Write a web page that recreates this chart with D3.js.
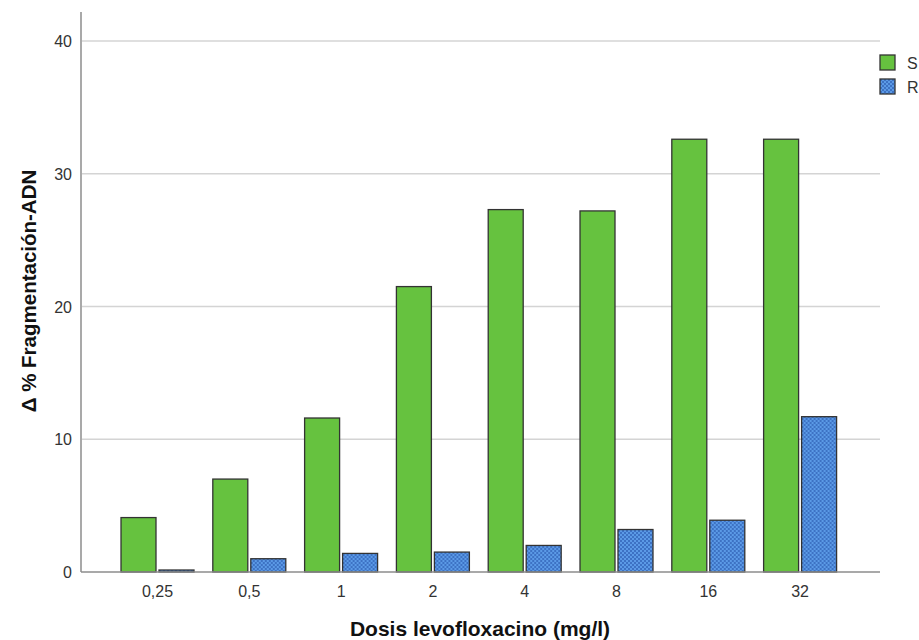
<!DOCTYPE html>
<html><head><meta charset="utf-8">
<script src="https://cdn.jsdelivr.net/npm/d3@7"></script>
<style>body{margin:0;background:#fff;} text{font-family:"Liberation Sans",Arial,sans-serif;}</style>
</head><body>
<svg id="c" width="919" height="640"></svg>
<script>
const categories = ["0,25","0,5","1","2","4","8","16","32"];
const seriesNames = ["S","R"];
const valuesS = [4.1, 7.0, 11.6, 21.5, 27.3, 27.2, 32.6, 32.6];
const valuesR = [0.15, 1.0, 1.4, 1.5, 2.0, 3.2, 3.9, 11.7];
const yTicks = [0, 10, 20, 30, 40];

const svg = d3.select("#c");
const defs = svg.append("defs");
const pat = defs.append("pattern").attr("id","dots").attr("patternUnits","userSpaceOnUse").attr("width",4).attr("height",4);
pat.append("rect").attr("width",4).attr("height",4).attr("fill","#5b9ae6");
pat.append("rect").attr("x",0).attr("y",0).attr("width",2).attr("height",2).attr("fill","#3d72c4");
pat.append("rect").attr("x",2).attr("y",2).attr("width",2).attr("height",2).attr("fill","#3d72c4");

const fills = {S:"#66c23f", R:"url(#dots)"};

const y = d3.scaleLinear().domain([0,40]).range([572,41]);
const x0 = d3.scaleBand().domain(categories).range([111.6,846]).paddingInner(0.205).paddingOuter(0.1025);
const x1 = d3.scaleBand().domain(seriesNames).range([0, x0.bandwidth()]).paddingInner(0.079);

// gridlines
svg.append("g").selectAll("line").data(yTicks.filter(d=>d>0)).join("line")
  .attr("x1",82).attr("x2",880).attr("y1",d=>y(d)).attr("y2",d=>y(d))
  .attr("stroke","#d4d4d4").attr("stroke-width",1.3);

// bars
const data = categories.map((c,i)=>({cat:c, S:valuesS[i], R:valuesR[i]}));
const groups = svg.append("g").selectAll("g").data(data).join("g")
  .attr("transform",d=>`translate(${x0(d.cat)},0)`);
groups.selectAll("rect").data(d=>seriesNames.map(k=>({key:k, value:d[k]}))).join("rect")
  .attr("x",d=>x1(d.key)).attr("width",x1.bandwidth())
  .attr("y",d=>y(d.value)).attr("height",d=>y(0)-y(d.value))
  .attr("fill",d=>fills[d.key]).attr("stroke","#333").attr("stroke-width",1.3);

// axes
const axG = svg.append("g");
axG.append("line").attr("x1",81).attr("x2",81).attr("y1",12).attr("y2",572).attr("stroke","#8c8c8c").attr("stroke-width",1.5);
axG.append("line").attr("x1",81).attr("x2",880).attr("y1",572).attr("y2",572).attr("stroke","#8c8c8c").attr("stroke-width",1.5);

svg.append("g").selectAll("text").data(yTicks).join("text")
  .attr("x",72).attr("y",d=>y(d)+6).attr("text-anchor","end")
  .attr("font-size",16).attr("fill","#333").text(d=>d);

svg.append("g").selectAll("text").data(categories).join("text")
  .attr("x",d=>x0(d)+x0.bandwidth()/2).attr("y",597).attr("text-anchor","middle")
  .attr("font-size",16).attr("fill","#333").text(d=>d);

svg.append("text").attr("x",480).attr("y",636).attr("text-anchor","middle")
  .attr("font-size",21).attr("font-weight","bold").attr("fill","#111").text("Dosis levofloxacino (mg/l)");

svg.append("text").attr("transform","translate(36,291) rotate(-90)").attr("text-anchor","middle")
  .attr("font-size",20.5).attr("font-weight","bold").attr("fill","#111").text("Δ % Fragmentación-ADN");

// legend
const leg = svg.append("g").selectAll("g").data(seriesNames).join("g")
  .attr("transform",(d,i)=>`translate(880,${55+i*24})`);
leg.append("rect").attr("width",15).attr("height",15).attr("fill",d=>fills[d]).attr("stroke","#333").attr("stroke-width",1.3);
leg.append("text").attr("x",27).attr("y",14).attr("font-size",16).attr("fill","#333").text(d=>d);
</script>
</body></html>
